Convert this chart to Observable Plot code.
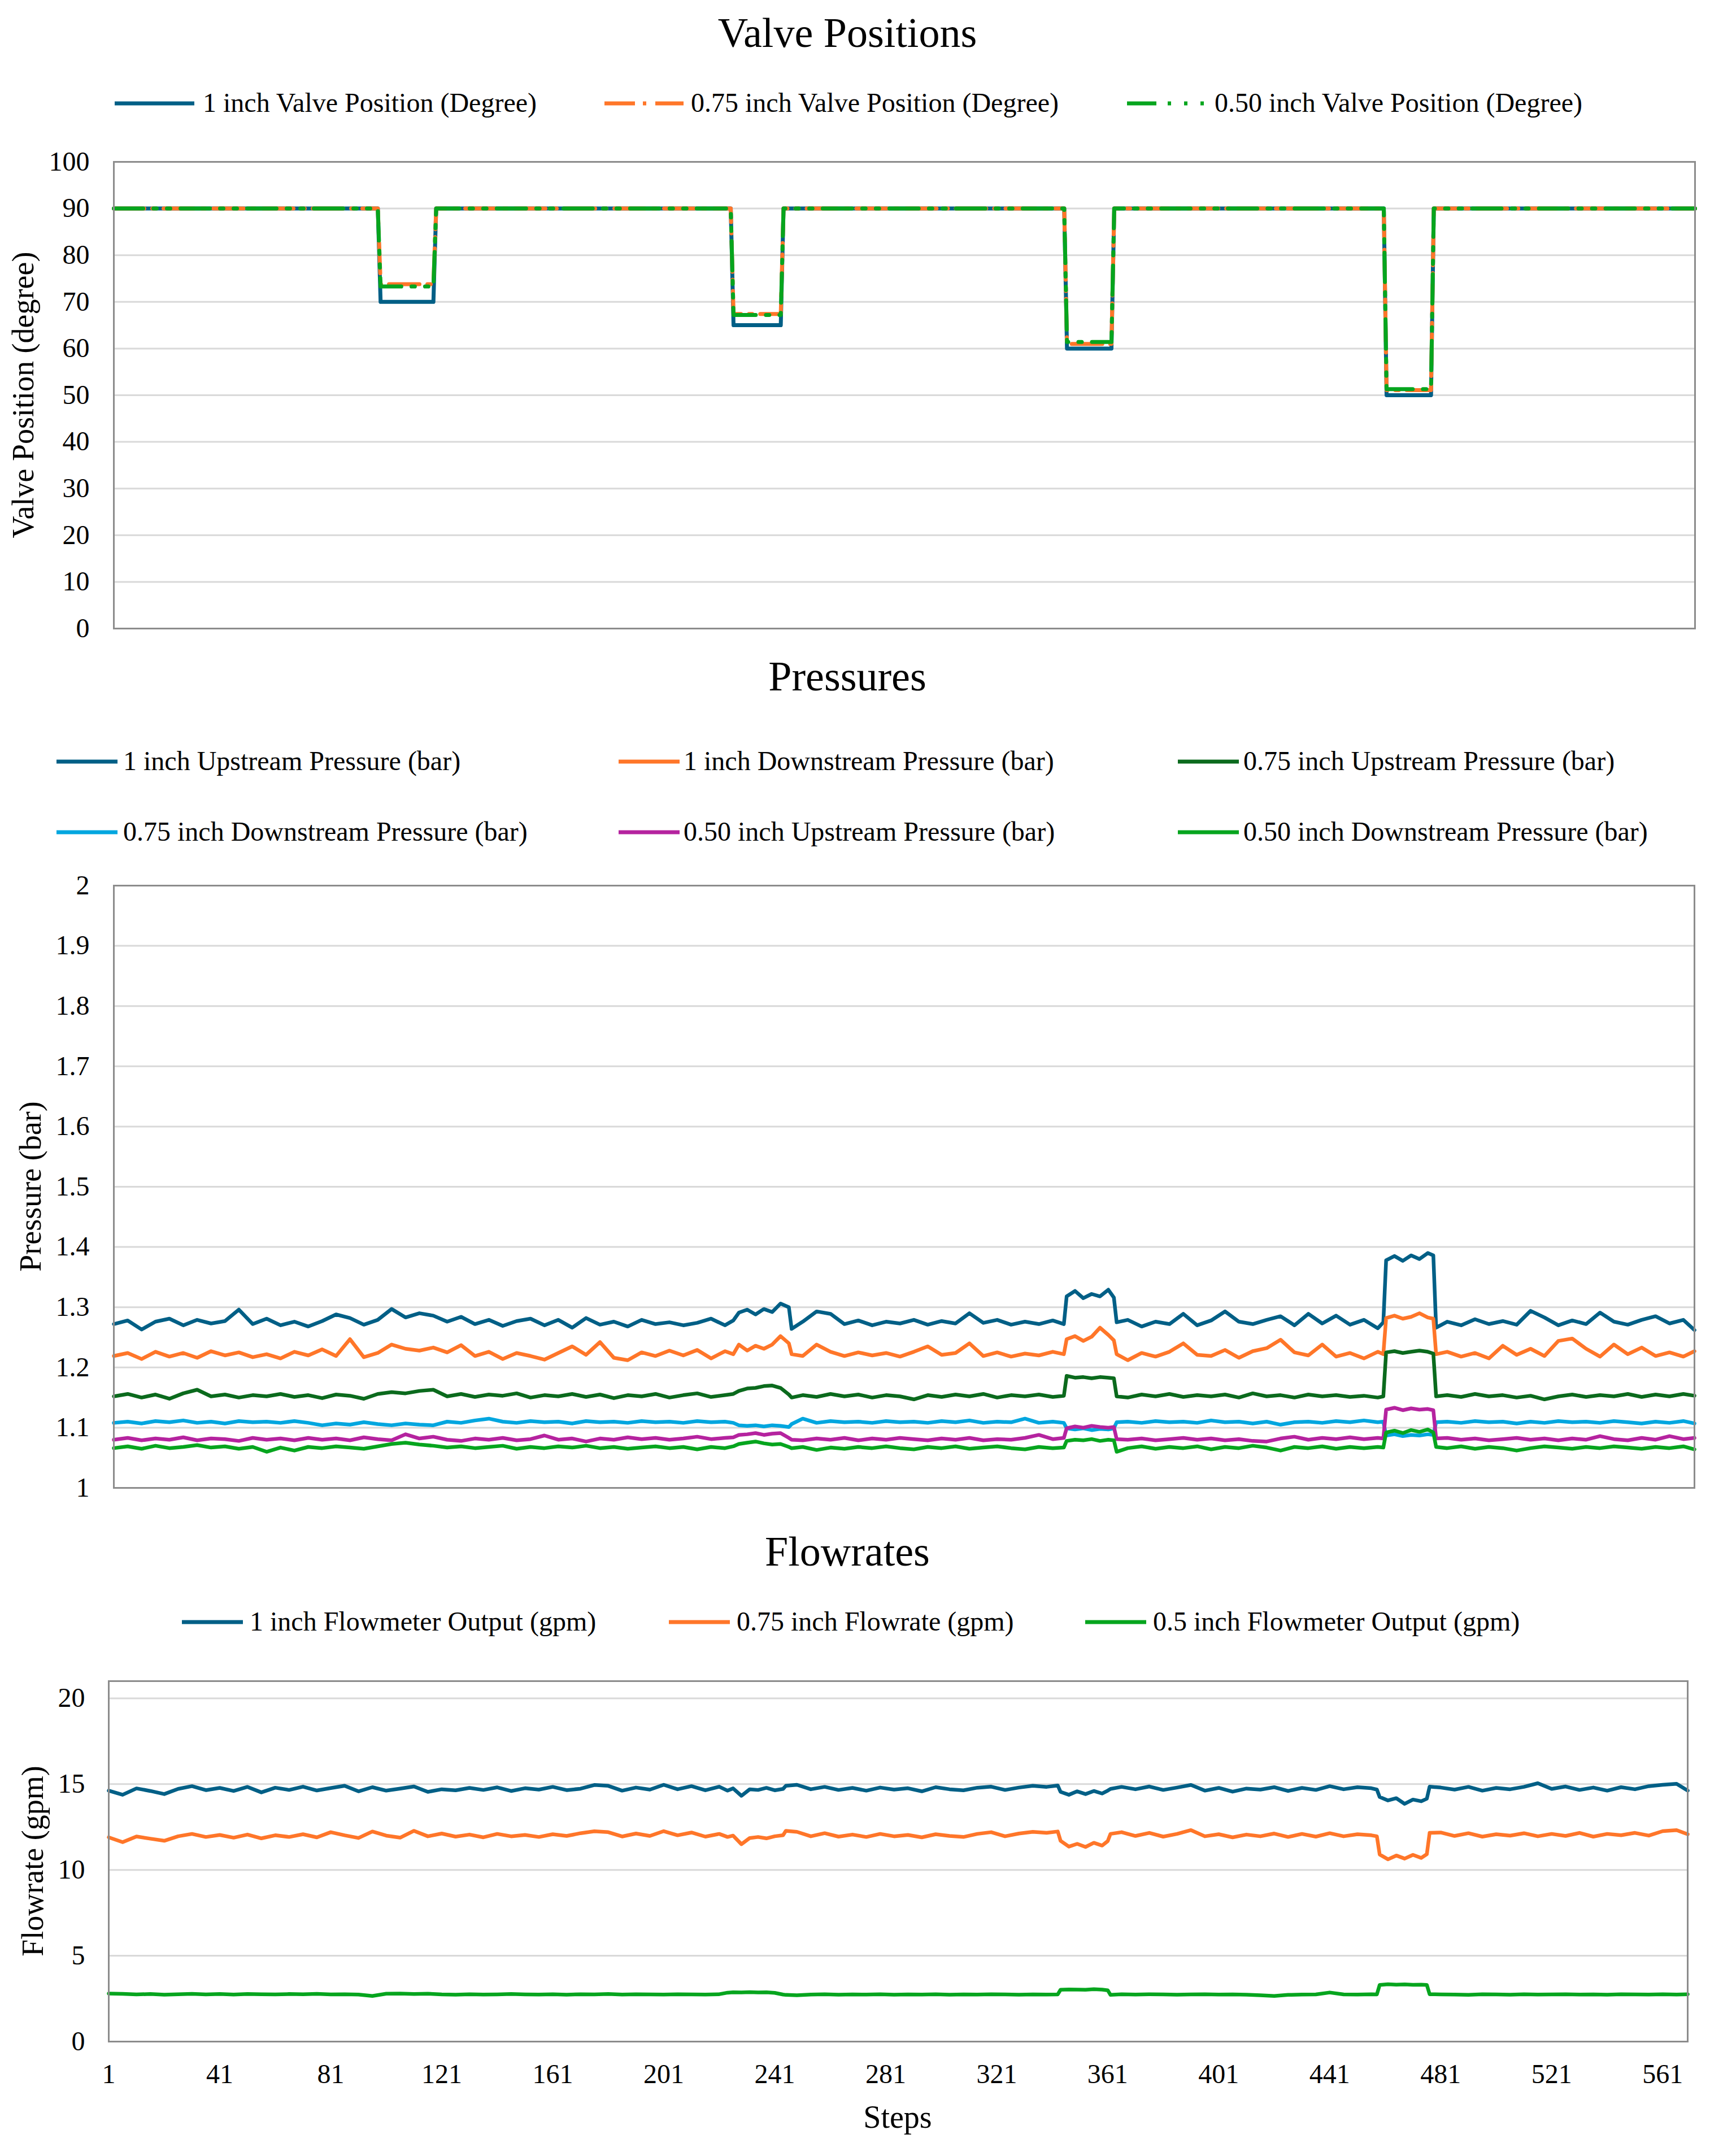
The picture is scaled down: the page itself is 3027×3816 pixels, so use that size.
<!DOCTYPE html>
<html lang="en">
<head>
<meta charset="UTF-8">
<title>Valve Positions, Pressures and Flowrates</title>
<style>
  body { margin: 0; background: #fff; }
  #page { position: relative; width: 3027px; height: 3816px; background: #fff; overflow: hidden; }
  #page svg, #page svg text { font-family: "Liberation Serif", "Times New Roman", serif; }
</style>
</head>
<body>
<div id="page"></div>
<script src="https://cdn.jsdelivr.net/npm/d3@7"></script>
<script src="https://cdn.jsdelivr.net/npm/@observablehq/plot@0.6"></script>
<script>
// ---- data ----

// valve positions: only the steps where something changes
const valveSteps = [1, 96, 97, 116, 117, 223, 224, 241, 242, 343, 344, 360, 361, 458, 459, 475, 476, 570];
const valve1   = [90, 90, 70, 70, 90, 90, 65, 65, 90, 90, 60, 60, 90, 90, 50, 50, 90, 90];
const valve075 = [90, 90, 73.8, 73.8, 90, 90, 67.4, 67.4, 90, 90, 61.0, 61.0, 90, 90, 51.1, 51.1, 90, 90];
const valve050 = [90, 90, 73.3, 73.3, 90, 90, 67.2, 67.2, 90, 90, 61.4, 61.4, 90, 90, 51.3, 51.3, 90, 90];

// sampled steps for pressures and flowrates (denser around the valve events)
const steps = [
  1,6,11,16,21,26,31,36,41,46,51,56,61,66,71,
  76,81,86,91,96,101,106,111,116,121,126,131,136,141,146,
  151,156,161,166,171,176,181,186,191,196,201,206,211,216,221,
  224,226,229,232,235,238,241,244,245,
  249,254,259,264,269,274,279,284,289,294,299,304,309,314,319,324,329,334,339,343,
  344,347,350,353,356,359,361,362,
  366,371,376,381,386,391,396,401,406,411,416,421,426,431,436,441,446,451,456,458,
  459,462,465,468,471,474,476,477,
  481,486,491,496,501,506,511,516,521,526,531,536,541,546,551,556,561,566,570
];

const up1 = [
  1.272,1.278,1.263,1.276,1.281,1.270,1.279,1.273,1.277,1.296,1.272,1.281,1.270,1.276,1.268,
  1.277,1.288,1.282,1.271,1.279,1.297,1.283,1.290,1.286,1.276,1.284,1.272,1.279,1.269,1.277,
  1.281,1.270,1.279,1.266,1.282,1.271,1.276,1.268,1.279,1.272,1.275,1.270,1.274,1.281,1.270,
  1.278,1.291,1.296,1.288,1.297,1.292,1.306,1.300,1.264,
  1.276,1.293,1.289,1.272,1.278,1.270,1.276,1.273,1.279,1.271,1.277,1.273,1.290,1.274,1.279,1.271,1.276,1.272,1.278,1.272,
  1.318,1.327,1.315,1.322,1.318,1.329,1.316,1.275,
  1.279,1.268,1.276,1.272,1.289,1.270,1.278,1.293,1.276,1.272,1.279,1.285,1.270,1.289,1.273,1.286,1.271,1.279,1.265,1.275,
  1.378,1.385,1.377,1.386,1.380,1.390,1.386,1.266,
  1.276,1.270,1.280,1.272,1.277,1.271,1.294,1.283,1.270,1.278,1.272,1.291,1.276,1.271,1.279,1.285,1.273,1.279,1.262
];
const down1 = [
  1.219,1.224,1.214,1.226,1.218,1.224,1.216,1.227,1.220,1.225,1.217,1.222,1.215,1.226,1.220,
  1.230,1.219,1.247,1.217,1.224,1.238,1.231,1.228,1.233,1.225,1.237,1.219,1.226,1.214,1.224,
  1.219,1.213,1.224,1.235,1.221,1.242,1.216,1.212,1.225,1.219,1.228,1.220,1.229,1.215,1.227,
  1.222,1.238,1.228,1.236,1.231,1.238,1.252,1.240,1.222,
  1.219,1.238,1.226,1.219,1.225,1.220,1.224,1.218,1.226,1.235,1.221,1.224,1.240,1.219,1.225,1.218,1.223,1.220,1.226,1.222,
  1.247,1.252,1.244,1.251,1.266,1.254,1.245,1.222,
  1.212,1.224,1.218,1.226,1.240,1.221,1.219,1.229,1.216,1.227,1.232,1.246,1.225,1.220,1.238,1.218,1.224,1.215,1.226,1.222,
  1.282,1.286,1.281,1.284,1.290,1.283,1.281,1.222,
  1.226,1.218,1.224,1.215,1.236,1.221,1.231,1.219,1.244,1.248,1.231,1.218,1.238,1.222,1.233,1.219,1.225,1.218,1.227
];
const up075 = [
  1.152,1.156,1.150,1.155,1.148,1.157,1.163,1.152,1.155,1.150,1.154,1.152,1.156,1.151,1.154,
  1.149,1.155,1.153,1.148,1.156,1.159,1.157,1.161,1.163,1.152,1.156,1.151,1.155,1.153,1.157,
  1.150,1.154,1.152,1.156,1.151,1.155,1.149,1.154,1.152,1.156,1.150,1.154,1.157,1.151,1.154,
  1.156,1.161,1.165,1.166,1.169,1.170,1.166,1.155,1.150,
  1.154,1.151,1.156,1.152,1.155,1.150,1.154,1.152,1.147,1.154,1.151,1.155,1.152,1.156,1.150,1.154,1.152,1.155,1.151,1.153,
  1.186,1.183,1.184,1.182,1.184,1.183,1.182,1.152,
  1.150,1.155,1.152,1.156,1.151,1.154,1.152,1.155,1.150,1.157,1.152,1.154,1.150,1.155,1.152,1.154,1.151,1.153,1.150,1.152,
  1.225,1.227,1.224,1.226,1.228,1.226,1.223,1.152,
  1.154,1.151,1.156,1.152,1.154,1.150,1.153,1.147,1.152,1.155,1.151,1.154,1.152,1.156,1.151,1.155,1.152,1.156,1.153
];
const down075 = [
  1.108,1.110,1.107,1.111,1.109,1.112,1.108,1.110,1.107,1.111,1.109,1.110,1.108,1.111,1.108,
  1.104,1.107,1.105,1.109,1.106,1.104,1.107,1.105,1.104,1.110,1.108,1.112,1.115,1.110,1.108,
  1.111,1.109,1.110,1.107,1.111,1.109,1.110,1.108,1.111,1.109,1.110,1.108,1.111,1.109,1.110,
  1.108,1.104,1.103,1.104,1.102,1.104,1.103,1.101,1.106,
  1.115,1.108,1.111,1.109,1.110,1.108,1.111,1.109,1.110,1.108,1.111,1.109,1.112,1.108,1.110,1.109,1.115,1.108,1.110,1.108,
  1.099,1.097,1.099,1.096,1.098,1.097,1.099,1.109,
  1.110,1.108,1.111,1.109,1.110,1.108,1.112,1.109,1.110,1.107,1.110,1.105,1.109,1.110,1.108,1.111,1.109,1.112,1.109,1.110,
  1.087,1.089,1.086,1.088,1.087,1.089,1.088,1.109,
  1.110,1.108,1.111,1.109,1.110,1.107,1.110,1.108,1.111,1.109,1.110,1.108,1.111,1.109,1.107,1.110,1.108,1.111,1.107
];
const up050 = [
  1.080,1.083,1.079,1.082,1.080,1.084,1.079,1.082,1.081,1.078,1.083,1.080,1.082,1.079,1.083,
  1.080,1.082,1.079,1.084,1.081,1.079,1.089,1.082,1.085,1.080,1.078,1.082,1.080,1.083,1.079,
  1.081,1.087,1.080,1.082,1.077,1.082,1.080,1.084,1.081,1.083,1.080,1.082,1.085,1.081,1.083,
  1.084,1.088,1.089,1.091,1.088,1.090,1.091,1.083,1.080,
  1.079,1.082,1.080,1.083,1.079,1.082,1.080,1.083,1.081,1.079,1.082,1.080,1.083,1.079,1.081,1.080,1.083,1.088,1.081,1.083,
  1.099,1.102,1.100,1.103,1.101,1.100,1.101,1.081,
  1.080,1.082,1.079,1.081,1.083,1.080,1.082,1.079,1.081,1.078,1.077,1.082,1.085,1.080,1.083,1.081,1.084,1.081,1.083,1.082,
  1.130,1.133,1.129,1.132,1.130,1.131,1.129,1.082,
  1.083,1.080,1.082,1.079,1.081,1.083,1.080,1.082,1.079,1.082,1.080,1.086,1.081,1.079,1.083,1.080,1.086,1.081,1.083
];
const down050 = [
  1.066,1.069,1.065,1.070,1.066,1.068,1.071,1.067,1.069,1.065,1.068,1.060,1.067,1.062,1.068,
  1.066,1.069,1.067,1.065,1.069,1.073,1.075,1.072,1.070,1.067,1.069,1.066,1.068,1.070,1.065,
  1.068,1.066,1.069,1.067,1.070,1.066,1.068,1.065,1.067,1.069,1.066,1.068,1.064,1.068,1.066,
  1.069,1.073,1.075,1.077,1.074,1.072,1.073,1.068,1.066,
  1.068,1.063,1.067,1.065,1.068,1.066,1.069,1.066,1.064,1.068,1.066,1.069,1.065,1.067,1.069,1.066,1.064,1.068,1.066,1.067,
  1.078,1.080,1.079,1.081,1.078,1.080,1.079,1.060,
  1.066,1.069,1.065,1.068,1.066,1.069,1.064,1.068,1.066,1.070,1.067,1.062,1.068,1.066,1.069,1.065,1.068,1.066,1.068,1.067,
  1.092,1.095,1.091,1.096,1.093,1.097,1.092,1.068,
  1.066,1.069,1.065,1.068,1.066,1.062,1.066,1.069,1.067,1.065,1.068,1.066,1.069,1.067,1.065,1.068,1.066,1.069,1.064
];

const flow1 = [
  14.62,14.38,14.75,14.60,14.42,14.72,14.88,14.65,14.78,14.60,14.84,14.52,14.79,14.66,14.85,
  14.63,14.77,14.90,14.58,14.82,14.62,14.74,14.86,14.55,14.70,14.64,14.78,14.66,14.81,14.60,
  14.76,14.68,14.84,14.65,14.73,14.95,14.90,14.62,14.80,14.68,14.96,14.70,14.88,14.64,14.85,
  14.62,14.75,14.32,14.70,14.66,14.78,14.64,14.72,14.90,
  14.96,14.70,14.84,14.66,14.78,14.62,14.80,14.68,14.76,14.58,14.82,14.70,14.64,14.79,14.85,14.66,14.80,14.90,14.84,14.92,
  14.55,14.38,14.58,14.42,14.60,14.45,14.62,14.72,
  14.84,14.70,14.86,14.66,14.80,14.95,14.62,14.78,14.56,14.74,14.68,14.82,14.60,14.78,14.66,14.88,14.70,14.82,14.76,14.68,
  14.25,14.05,14.18,13.85,14.10,14.00,14.15,14.85,
  14.80,14.68,14.84,14.62,14.78,14.70,14.84,15.05,14.72,14.86,14.66,14.80,14.62,14.82,14.70,14.88,14.96,15.02,14.62
];
const flow075 = [
  11.90,11.62,11.95,11.82,11.70,11.96,12.10,11.92,12.04,11.88,12.06,11.84,12.02,11.92,12.08,
  11.90,12.20,12.02,11.86,12.24,12.00,11.88,12.28,11.96,12.12,11.94,12.06,11.90,12.10,11.96,
  12.04,11.92,12.08,11.98,12.14,12.25,12.20,11.95,12.12,11.98,12.26,12.02,12.18,11.94,12.10,
  11.92,12.00,11.50,11.86,11.92,11.84,11.96,12.02,12.28,
  12.22,11.96,12.14,11.94,12.06,11.92,12.10,11.96,12.04,11.90,12.08,11.98,11.92,12.10,12.20,11.96,12.12,12.22,12.16,12.24,
  11.70,11.36,11.52,11.34,11.58,11.42,11.68,12.10,
  12.20,11.98,12.16,11.94,12.10,12.32,11.96,12.08,11.90,12.06,11.96,12.12,11.92,12.10,11.94,12.14,11.96,12.08,12.02,11.96,
  10.90,10.62,10.84,10.66,10.88,10.70,10.92,12.16,
  12.18,11.98,12.14,11.94,12.08,12.00,12.14,11.96,12.10,11.98,12.16,11.94,12.10,12.02,12.16,12.00,12.26,12.32,12.08
];
const flow05 = [
  2.80,2.78,2.75,2.77,2.73,2.76,2.78,2.75,2.77,2.74,2.77,2.76,2.75,2.77,2.76,
  2.78,2.75,2.76,2.74,2.66,2.79,2.80,2.77,2.79,2.75,2.73,2.76,2.74,2.75,2.77,
  2.75,2.74,2.76,2.73,2.76,2.75,2.77,2.74,2.76,2.75,2.74,2.76,2.75,2.74,2.76,
  2.85,2.87,2.86,2.88,2.86,2.87,2.84,2.74,2.72,
  2.70,2.74,2.76,2.73,2.75,2.74,2.76,2.73,2.75,2.74,2.76,2.73,2.75,2.74,2.76,2.75,2.73,2.75,2.74,2.75,
  3.02,3.04,3.03,3.02,3.05,3.03,2.99,2.72,
  2.76,2.74,2.76,2.75,2.73,2.75,2.76,2.74,2.75,2.73,2.70,2.66,2.72,2.74,2.75,2.86,2.75,2.74,2.76,2.75,
  3.30,3.34,3.32,3.33,3.31,3.32,3.30,2.76,
  2.75,2.74,2.72,2.76,2.75,2.73,2.76,2.74,2.75,2.76,2.74,2.75,2.73,2.76,2.75,2.74,2.76,2.74,2.76
];

// ticks and labels
const valveTicks = [0, 10, 20, 30, 40, 50, 60, 70, 80, 90, 100];
const pressureTicks = [1, 1.1, 1.2, 1.3, 1.4, 1.5, 1.6, 1.7, 1.8, 1.9, 2];
const flowTicks = [0, 5, 10, 15, 20];
const stepTicks = [1, 41, 81, 121, 161, 201, 241, 281, 321, 361, 401, 441, 481, 521, 561];

const valveLabels = ["1 inch Valve Position (Degree)", "0.75 inch Valve Position (Degree)", "0.50 inch Valve Position (Degree)"];
const pressureLabels = [
  "1 inch Upstream Pressure (bar)", "1 inch Downstream Pressure (bar)", "0.75 inch Upstream Pressure (bar)",
  "0.75 inch Downstream Pressure (bar)", "0.50 inch Upstream Pressure (bar)", "0.50 inch Downstream Pressure (bar)"
];
const flowLabels = ["1 inch Flowmeter Output (gpm)", "0.75 inch Flowrate (gpm)", "0.5 inch Flowmeter Output (gpm)"];

// ---- styling ----
const font = '"Liberation Serif", "Times New Roman", serif';
const ink = {
  blue: "#005f86", orange: "#ff7629", green: "#06a51e",
  darkGreen: "#0b6a1d", sky: "#00a6df", magenta: "#b5239f"
};
const dashOrange = "54,14,6,14";
const dashGreen = "52,18,6,18,6,18";
const lineW = 6.5;
const grid = {stroke: "#d9d9d9", strokeOpacity: 1, strokeWidth: 3};
const frameStyle = {stroke: "#8c8c8c", strokeWidth: 3};
const plotStyle = {fontFamily: font, fontSize: "48px", color: "#000", background: "transparent", overflow: "visible"};
const tickText = {fontFamily: font, fontSize: 48, label: null, tickSize: 0};

const page = document.getElementById("page");
function place(svg, top) {
  svg.style.position = "absolute";
  svg.style.left = "0px";
  svg.style.top = top + "px";
  page.append(svg);
}

// ---- valve positions ----
const valvePlot = Plot.plot({
  width: 3027, height: 866,
  marginLeft: 201, marginRight: 27, marginTop: 20, marginBottom: 20,
  style: plotStyle,
  x: {domain: [1, 570], axis: null},
  y: {domain: [0, 100]},
  marks: [
    Plot.gridY(valveTicks.slice(1, -1), grid),
    Plot.axisY(valveTicks, {...tickText, tickPadding: 43}),
    Plot.lineY(valve1, {x: valveSteps, stroke: ink.blue, strokeWidth: 7}),
    Plot.lineY(valve075, {x: valveSteps, stroke: ink.orange, strokeWidth: 7, strokeDasharray: dashOrange}),
    Plot.lineY(valve050, {x: valveSteps, stroke: ink.green, strokeWidth: 7, strokeDasharray: dashGreen}),
    Plot.frame(frameStyle)
  ]
});
place(valvePlot, 266);

// ---- pressures ----
const pressureSeries = [up1, down1, up075, down075, up050, down050];
const pressureColors = [ink.blue, ink.orange, ink.darkGreen, ink.sky, ink.magenta, ink.green];
const pressurePlot = Plot.plot({
  width: 3027, height: 1106,
  marginLeft: 201, marginRight: 28, marginTop: 20, marginBottom: 20,
  style: plotStyle,
  x: {domain: [1, 570], axis: null},
  y: {domain: [1, 2]},
  marks: [
    Plot.gridY(pressureTicks.slice(1, -1), grid),
    Plot.axisY(pressureTicks, {...tickText, tickPadding: 43, tickFormat: d => String(Math.round(d * 10) / 10)}),
    ...pressureSeries.map((s, i) => Plot.lineY(s, {x: steps, stroke: pressureColors[i], strokeWidth: lineW})),
    Plot.frame(frameStyle)
  ]
});
place(pressurePlot, 1547);

// ---- flowrates ----
const flowSeries = [flow1, flow075, flow05];
const flowColors = [ink.blue, ink.orange, ink.green];
const flowPlot = Plot.plot({
  width: 3027, height: 758,
  marginLeft: 192, marginRight: 40, marginTop: 20, marginBottom: 100,
  style: plotStyle,
  x: {domain: [1, 570]},
  y: {domain: [0, 21]},
  marks: [
    Plot.gridY(flowTicks.slice(1), grid),
    Plot.axisY(flowTicks, {...tickText, tickPadding: 42}),
    Plot.axisX(stepTicks, {...tickText, tickPadding: 39}),
    ...flowSeries.map((s, i) => Plot.lineY(s, {x: steps, stroke: flowColors[i], strokeWidth: lineW})),
    Plot.frame(frameStyle)
  ]
});
place(flowPlot, 2955);

// ---- titles, legends, axis titles ----
const ov = d3.create("svg")
  .attr("width", 3027).attr("height", 3816)
  .style("position", "absolute").style("left", "0px").style("top", "0px")
  .style("font-family", font);

function title(text, y) {
  ov.append("text").attr("x", 1500).attr("y", y).attr("text-anchor", "middle")
    .attr("font-size", 74).text(text);
}
function yTitle(text, x, y) {
  ov.append("text").attr("transform", `translate(${x},${y}) rotate(-90)`)
    .attr("text-anchor", "middle").attr("dominant-baseline", "central")
    .attr("font-size", 54).text(text);
}
function legendItem(label, color, dash, x0, x1, tx, y) {
  ov.append("line").attr("x1", x0).attr("x2", x1).attr("y1", y).attr("y2", y)
    .attr("stroke", color).attr("stroke-width", 7).attr("stroke-dasharray", dash);
  ov.append("text").attr("x", tx).attr("y", y + 15).attr("font-size", 48).text(label);
}

title("Valve Positions", 83);
legendItem(valveLabels[0], ink.blue, null, 203, 344, 359, 183);
legendItem(valveLabels[1], ink.orange, "54,14,6,16,60", 1070, 1210, 1223, 183);
legendItem(valveLabels[2], ink.green, "52,20,6,23,6,23,6,100", 1995, 2138, 2150, 183);
yTitle("Valve Position (degree)", 41, 699);

title("Pressures", 1222);
const pCols = [[100, 218], [1095, 1210], [2085, 2201]];
const pRows = [1348, 1473];
pressureLabels.forEach((label, i) => {
  const [x0, tx] = pCols[i % 3];
  legendItem(label, pressureColors[i], null, x0, x0 + 108, tx, pRows[Math.floor(i / 3)]);
});
yTitle("Pressure (bar)", 54, 2100);

title("Flowrates", 2771);
const fCols = [[322, 442], [1184, 1304], [1921, 2041]];
flowLabels.forEach((label, i) => {
  const [x0, tx] = fCols[i];
  legendItem(label, flowColors[i], null, x0, x0 + 108, tx, 2871);
});
yTitle("Flowrate (gpm)", 58, 3294);
ov.append("text").attr("x", 1589).attr("y", 3766).attr("text-anchor", "middle")
  .attr("font-size", 56).text("Steps");

page.append(ov.node());
</script>
</body>
</html>
